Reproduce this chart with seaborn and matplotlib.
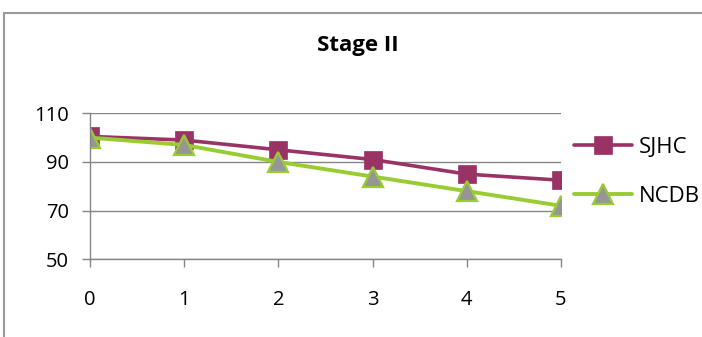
import matplotlib
matplotlib.use("Agg")
import matplotlib.pyplot as plt
import seaborn as sns
import pandas as pd
from matplotlib.patches import Rectangle

# Survival by year since diagnosis
years = [0, 1, 2, 3, 4, 5]
sjhc = [100.5, 99, 95, 91, 85, 82.5]
ncdb = [100, 97, 90, 84, 78, 72]
y_ticks = [50, 70, 90, 110]
title = "Stage II"
series_names = ["SJHC", "NCDB"]

sns.set_theme(style="white")
plt.rcParams["font.family"] = ["Open Sans", "DejaVu Sans"]

fig = plt.figure(figsize=(7.02, 3.37), dpi=100)
W, H = 702, 337
ax = fig.add_axes([90 / W, (H - 259.3) / H, (561 - 90) / W, (259.3 - 113.3) / H])

grey = "#868686"
purple = "#993366"
green = "#99CC33"

df = pd.DataFrame({"year": years, "SJHC": sjhc, "NCDB": ncdb})

sns.lineplot(data=df, x="year", y="SJHC", ax=ax, color=purple, linewidth=2.6,
             marker="s", markersize=13.5, markerfacecolor=purple,
             markeredgecolor=purple, markeredgewidth=0.5, label=series_names[0])
sns.lineplot(data=df, x="year", y="NCDB", ax=ax, color=green, linewidth=2.8,
             marker="^", markersize=14, markerfacecolor="#969696",
             markeredgecolor=green, markeredgewidth=1.6, label=series_names[1])

ax.set_xlim(0, 5)
ax.set_ylim(50, 110)
ax.set_yticks(y_ticks)
ax.set_xticks(years)
ax.set_xlabel("")
ax.set_ylabel("")
ax.yaxis.grid(True, color=grey, linewidth=1.0)
ax.xaxis.grid(False)
ax.set_axisbelow(True)

for side in ["top", "right"]:
    ax.spines[side].set_visible(False)
for side in ["left", "bottom"]:
    ax.spines[side].set_color(grey)
    ax.spines[side].set_linewidth(1.0)

ax.tick_params(axis="y", which="major", direction="out", length=6, width=1,
               color=grey, pad=9, labelsize=14.5, labelcolor="black", left=True)
ax.tick_params(axis="x", which="major", direction="out", length=6, width=1,
               color=grey, pad=16, labelsize=14.5, labelcolor="black", bottom=True)

fig.text(358 / W, 1 - 45 / H, title, ha="center", va="center",
         fontsize=16, fontweight="bold", color="black")

leg = ax.legend(loc="center left", bbox_to_anchor=(574 / W, 1 - 172 / H),
                bbox_transform=fig.transFigure, frameon=False, fontsize=16,
                handlelength=2.6, handletextpad=0.3, labelspacing=1.25,
                borderaxespad=0, borderpad=0)
for t in leg.get_texts():
    t.set_color("black")

# Outer chart border
fig.patches.append(Rectangle((4 / W, -0.1), 1.2, (H - 13) / H + 0.1,
                             transform=fig.transFigure, fill=False,
                             edgecolor="#999999", linewidth=1.5, zorder=0))

fig.savefig("out.png", dpi=100, facecolor="white")
